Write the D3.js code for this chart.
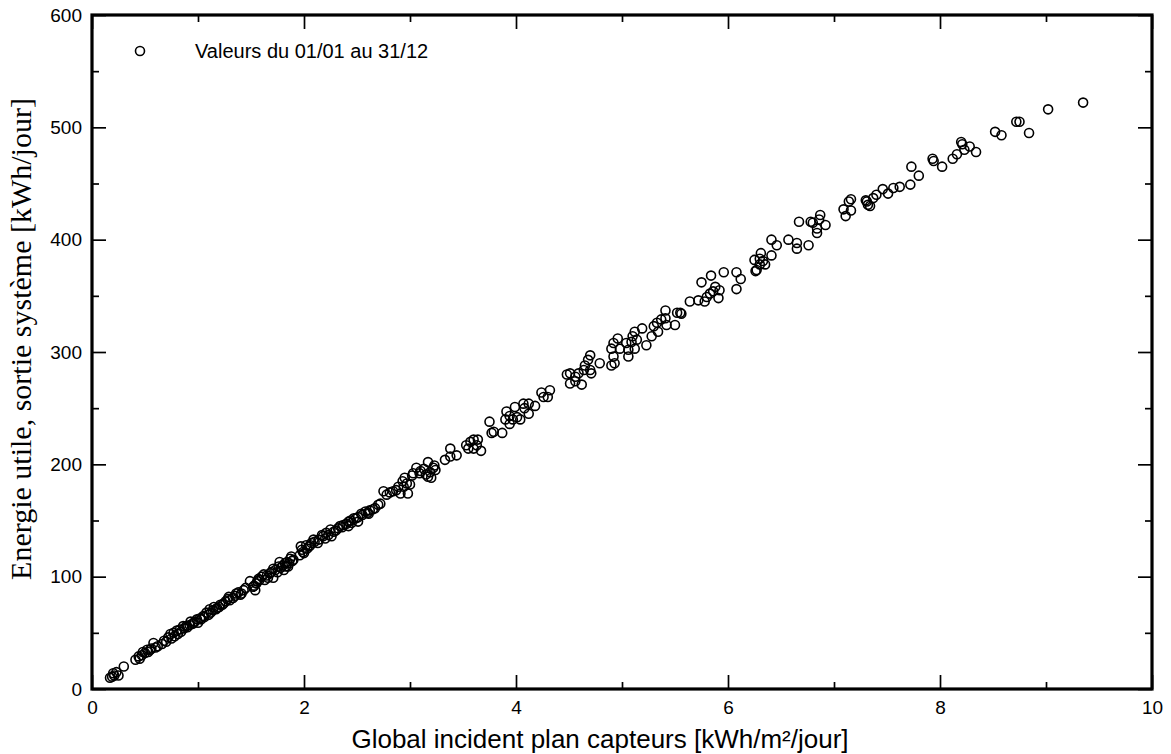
<!DOCTYPE html>
<html>
<head>
<meta charset="utf-8">
<script src="https://cdn.jsdelivr.net/npm/d3@7"></script>
<style>
  html, body { margin: 0; padding: 0; background: #fff; }
  svg { display: block; }
</style>
</head>
<body>
<svg id="chart" width="1171" height="754"></svg>
<script>
// Daily values over the year: incident global irradiation vs. useful energy output
const globalIncident = [
  9.35, 9.02, 8.84, 8.72, 8.75, 8.58, 8.52, 8.34, 8.28, 8.23, 8.20, 8.21, 8.16, 8.12, 8.02, 7.93, 7.94, 7.80, 7.73, 7.72,
  7.62, 7.56, 7.51, 7.46, 7.40, 7.37, 7.31, 7.30, 7.34, 7.32, 7.16, 7.14, 7.16, 7.09, 7.11, 6.92, 6.87, 6.86, 6.84, 6.84,
  6.80, 6.78, 6.67, 6.76, 6.65, 6.65, 6.57, 6.46, 6.41, 6.41, 6.31, 6.25, 6.30, 6.33, 6.35, 6.30, 6.27, 6.26, 6.12, 6.08,
  6.08, 5.96, 5.84, 5.75, 5.91, 5.92, 5.88, 5.86, 5.83, 5.80, 5.78, 5.72, 5.64, 5.56, 5.55, 5.52, 5.41, 5.41, 5.37, 5.33,
  5.30, 5.50, 5.42, 5.34, 5.28, 5.23, 5.19, 5.12, 5.10, 5.14, 5.09, 5.04, 5.06, 4.98, 4.96, 4.92, 4.90, 4.92, 4.93, 4.90,
  5.12, 5.06, 4.79, 4.70, 4.68, 4.65, 4.64, 4.70, 4.71, 4.59, 4.56, 4.51, 4.51, 4.62, 4.56, 4.48, 4.32, 4.24, 4.30, 4.26,
  4.18, 4.12, 4.08, 4.12, 4.07, 3.99, 3.91, 3.94, 4.01, 4.04, 3.97, 3.90, 3.94, 3.75, 3.79, 3.77, 3.87, 3.57, 3.60, 3.64,
  3.53, 3.55, 3.60, 3.67, 3.63, 3.38, 3.33, 3.38, 3.44, 3.17, 3.06, 3.22, 3.09, 3.17, 3.24, 3.20, 3.13, 3.03, 2.95, 2.87,
  2.94, 3.00, 2.98, 2.91, 2.84, 2.75, 2.78, 2.70, 2.67, 2.62, 2.72, 2.61, 2.58, 2.54, 2.51, 2.47, 2.42, 2.51, 2.45, 2.42,
  2.37, 2.32, 2.34, 2.25, 2.21, 2.26, 2.18, 2.14, 2.17, 2.09, 2.07, 2.05, 2.02, 1.97, 1.99, 1.96, 1.88, 1.87, 1.82, 1.85,
  1.81, 1.76, 1.77, 1.71, 1.68, 1.71, 1.66, 1.62, 1.58, 1.55, 1.52, 1.54, 1.49, 1.43, 1.40, 1.36, 1.33, 1.30, 1.29, 1.24,
  1.21, 1.18, 1.15, 1.11, 1.08, 1.05, 1.02, 0.99, 0.96, 0.93, 0.89, 0.86, 0.83, 0.80, 0.77, 0.74, 0.72, 0.68, 0.66, 0.58,
  0.56, 0.52, 0.48, 0.44, 0.41, 0.30, 0.23, 0.20, 0.17,
  0.45, 0.47, 0.50, 0.53, 0.55, 0.60, 0.62, 0.70, 0.75, 0.78, 0.81, 0.84, 0.87, 0.90, 0.92, 0.95, 0.97, 1.00, 1.03, 1.06,
  1.10, 1.12, 1.14, 1.17, 1.20, 1.23, 1.26, 1.28, 1.35, 1.38, 1.41, 1.45, 1.53, 1.56, 1.57, 1.60, 1.63, 1.65, 1.69, 1.73,
  1.75, 1.78, 1.80, 1.83, 1.84, 1.86, 1.89, 1.90, 1.98, 2.00, 2.03, 2.06, 2.10, 2.13, 2.20, 2.23, 2.28, 2.30, 2.36, 2.40,
  2.44, 2.49, 2.55, 2.60, 2.65, 2.81, 2.89, 2.93, 2.97, 3.02, 3.10, 3.15, 3.19, 3.23, 0.25, 0.21, 0.19
];
const energieUtile = [
  522, 516, 495, 505, 505, 493, 496, 478, 483, 480, 487, 485, 476, 472, 465, 472, 470, 457, 465, 449,
  447, 446, 441, 445, 440, 437, 434, 435, 430, 431, 436, 434, 426, 427, 421, 413, 422, 418, 410, 406,
  415, 416, 416, 395, 392, 397, 400, 395, 400, 386, 388, 382, 383, 381, 378, 378, 373, 372, 365, 371,
  356, 371, 368, 362, 348, 355, 358, 354, 352, 349, 345, 346, 345, 334, 335, 335, 337, 330, 329, 326,
  323, 324, 324, 318, 314, 306, 321, 318, 314, 311, 309, 308, 302, 303, 312, 308, 303, 296, 290, 288,
  303, 296, 290, 297, 293, 288, 284, 284, 281, 281, 278, 281, 272, 271, 274, 280, 266, 264, 260, 260,
  252, 254, 250, 245, 254, 251, 247, 243, 242, 240, 240, 240, 236, 238, 229, 228, 228, 220, 222, 222,
  217, 214, 214, 212, 217, 214, 204, 207, 208, 202, 197, 197, 192, 189, 195, 188, 196, 192, 188, 177,
  180, 182, 174, 174, 176, 176, 173, 164, 161, 159, 165, 156, 158, 156, 153, 152, 149, 149, 148, 145,
  146, 143, 145, 142, 139, 136, 136, 133, 137, 133, 130, 127, 128, 127, 122, 119, 118, 116, 112, 109,
  106, 109, 113, 107, 103, 99, 99, 102, 97, 94, 91, 88, 96, 88, 84, 85, 81, 79, 82, 76,
  75, 72, 73, 71, 68, 65, 63, 62, 59, 60, 56, 56, 53, 52, 50, 49, 46, 43, 40, 41,
  36, 35, 33, 29, 26, 20, 15, 14, 10,
  27, 30, 32, 33, 35, 37, 38, 42, 45, 47, 49, 51, 54, 55, 57, 58, 60, 59, 62, 64,
  66, 68, 70, 71, 73, 75, 78, 80, 83, 86, 85, 90, 92, 96, 98, 100, 97, 101, 104, 106,
  104, 108, 110, 109, 113, 112, 114, 115, 124, 121, 125, 128, 131, 130, 134, 137, 140, 141, 144, 147,
  150, 152, 155, 157, 160, 175, 180, 185, 183, 190, 194, 191, 193, 199, 12, 12, 11
];

const xMajorTicks = [0, 2, 4, 6, 8, 10];
const xMinorTicks = [1, 3, 5, 7, 9];
const yMajorTicks = [0, 100, 200, 300, 400, 500, 600];
const yMinorTicks = [50, 150, 250, 350, 450, 550];

const xTitle = "Global incident plan capteurs [kWh/m\u00b2/jour]";
const yTitle = "Energie utile, sortie syst\u00e8me [kWh/jour]";
const legendLabel = "Valeurs du 01/01 au 31/12";

const svg = d3.select("#chart");
const plotLeft = 92, plotRight = 1152, plotTop = 15, plotBottom = 689;

const x = d3.scaleLinear().domain([0, 10]).range([plotLeft, plotRight]);
const y = d3.scaleLinear().domain([0, 600]).range([plotBottom, plotTop]);

const labelFont = "'Liberation Sans', Arial, sans-serif";

function styleAxis(g) {
  g.select(".domain").remove();
  g.selectAll(".tick line").attr("stroke", "#000").attr("stroke-width", 1.7);
  g.selectAll(".tick text").attr("fill", "#000")
    .style("font-family", labelFont).style("font-size", "19px");
}

// Major ticks with labels (bottom, left), inward ticks on all four sides
svg.append("g").attr("transform", `translate(0,${plotBottom})`)
  .call(d3.axisBottom(x).tickValues(xMajorTicks).tickSize(-14).tickPadding(12).tickFormat(d3.format("d")))
  .call(styleAxis);
svg.append("g").attr("transform", `translate(0,${plotBottom})`)
  .call(d3.axisBottom(x).tickValues(xMinorTicks).tickSize(-7).tickFormat(""))
  .call(styleAxis);
svg.append("g").attr("transform", `translate(0,${plotTop})`)
  .call(d3.axisTop(x).tickValues(xMajorTicks).tickSize(-14).tickFormat(""))
  .call(styleAxis);
svg.append("g").attr("transform", `translate(0,${plotTop})`)
  .call(d3.axisTop(x).tickValues(xMinorTicks).tickSize(-7).tickFormat(""))
  .call(styleAxis);

svg.append("g").attr("transform", `translate(${plotLeft},0)`)
  .call(d3.axisLeft(y).tickValues(yMajorTicks).tickSize(-14).tickPadding(10).tickFormat(d3.format("d")))
  .call(styleAxis);
svg.append("g").attr("transform", `translate(${plotLeft},0)`)
  .call(d3.axisLeft(y).tickValues(yMinorTicks).tickSize(-7).tickFormat(""))
  .call(styleAxis);
svg.append("g").attr("transform", `translate(${plotRight},0)`)
  .call(d3.axisRight(y).tickValues(yMajorTicks).tickSize(-14).tickFormat(""))
  .call(styleAxis);
svg.append("g").attr("transform", `translate(${plotRight},0)`)
  .call(d3.axisRight(y).tickValues(yMinorTicks).tickSize(-7).tickFormat(""))
  .call(styleAxis);

// Frame
svg.append("rect")
  .attr("x", plotLeft).attr("y", plotTop)
  .attr("width", plotRight - plotLeft).attr("height", plotBottom - plotTop)
  .attr("fill", "none").attr("stroke", "#000").attr("stroke-width", 3.2);

// Scatter of daily values
svg.append("g").selectAll("circle")
  .data(d3.range(globalIncident.length))
  .join("circle")
  .attr("cx", i => x(globalIncident[i]))
  .attr("cy", i => y(energieUtile[i]))
  .attr("r", 4.5)
  .attr("fill", "none")
  .attr("stroke", "#000")
  .attr("stroke-width", 1.6);

// Legend
svg.append("circle")
  .attr("cx", 140).attr("cy", 51).attr("r", 4.5)
  .attr("fill", "none").attr("stroke", "#000").attr("stroke-width", 1.6);
svg.append("text")
  .attr("x", 195).attr("y", 58)
  .style("font-family", labelFont).style("font-size", "20px")
  .text(legendLabel);

// Axis titles
svg.append("text")
  .attr("x", 600).attr("y", 748)
  .attr("text-anchor", "middle")
  .style("font-family", labelFont).style("font-size", "26px")
  .text(xTitle);

svg.append("text")
  .attr("transform", "translate(31,339) rotate(-90)")
  .attr("text-anchor", "middle")
  .style("font-family", "'Liberation Serif', 'Times New Roman', serif").style("font-size", "30px")
  .text(yTitle);
</script>
</body>
</html>
